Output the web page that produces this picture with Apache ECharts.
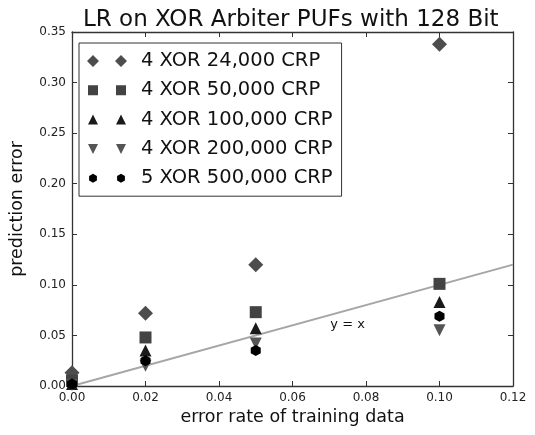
<!DOCTYPE html>
<html>
<head>
<meta charset="utf-8">
<script src="https://cdn.jsdelivr.net/npm/echarts@6/dist/echarts.min.js"></script>
<style>
  html, body { margin: 0; padding: 0; background: #fff; }
  #chart { width: 535px; height: 435px; }
</style>
</head>
<body>
<div id="chart"></div>
<script>
// error rate of training data (x positions)
const errorRates = [0, 0.02, 0.05, 0.1];
// prediction error per configuration
const xor4crp24k = [0.013, 0.072, 0.120, 0.338];
const xor4crp50k = [0.005, 0.048, 0.073, 0.101];
const xor4crp100k = [0.002, 0.035, 0.057, 0.083];
const xor4crp200k = [0.001, 0.020, 0.042, 0.055];
const xor5crp500k = [0.002, 0.025, 0.035, 0.069];
const seriesNames = ['4 XOR 24,000 CRP', '4 XOR 50,000 CRP', '4 XOR 100,000 CRP', '4 XOR 200,000 CRP', '5 XOR 500,000 CRP'];
const identityLine = [[0, 0], [0.12, 0.12]];

const FONT = 'DejaVu Sans';
const hexPath = 'path://M5,0L9.33,2.5L9.33,7.5L5,10L0.67,7.5L0.67,2.5Z';

function pts(ys) {
  return errorRates.map(function (x, i) { return [x, ys[i]]; });
}

const chart = echarts.init(document.getElementById('chart'));

const tickStyle = { show: true, inside: true, length: 5, lineStyle: { color: '#333', width: 1 } };
const axisLineStyle = { show: true, onZero: false, lineStyle: { color: '#333', width: 1.3 } };

const options = {
  backgroundColor: '#fff',
  animation: false,
  title: {
    text: 'LR on XOR Arbiter PUFs with 128 Bit',
    left: 78, top: 4,
    textStyle: { fontFamily: FONT, fontSize: 23, fontWeight: 'normal', color: '#111' }
  },
  grid: { left: 70, right: 22, top: 32, bottom: 49, containLabel: false },
  legend: {
    orient: 'vertical',
    left: 79, top: 43,
    padding: [8, 9, 8, 8],
    itemGap: 9.3,
    itemWidth: 40, itemHeight: 12,
    borderColor: '#333', borderWidth: 1,
    backgroundColor: '#fff',
    textStyle: { fontFamily: FONT, fontSize: 19.5, lineHeight: 20, color: '#111', padding: [0, 0, 0, 9] },
    data: [
      { name: seriesNames[0], icon: 'path://M0,6L6,0L12,6L6,12Z M28,6L34,0L40,6L34,12Z' },
      { name: seriesNames[1], icon: 'path://M0,0M40,12M1,1L11,1L11,11L1,11Z M29,1L39,1L39,11L29,11Z' },
      { name: seriesNames[2], icon: 'path://M0,0M40,12M6,1L11,11L1,11Z M34,1L39,11L29,11Z' },
      { name: seriesNames[3], icon: 'path://M0,0M40,12M1,1L11,1L6,11Z M29,1L39,1L34,11Z' },
      { name: seriesNames[4], icon: 'path://M0,0M40,12M6,1.5L9.9,3.75L9.9,8.25L6,10.5L2.1,8.25L2.1,3.75Z M34,1.5L37.9,3.75L37.9,8.25L34,10.5L30.1,8.25L30.1,3.75Z' }
    ]
  },
  xAxis: [
    {
      type: 'value', min: 0, max: 0.12, interval: 0.02,
      name: 'error rate of training data',
      nameLocation: 'middle', nameGap: 22,
      nameTextStyle: { fontFamily: FONT, fontSize: 17.5, color: '#111' },
      axisLine: axisLineStyle, axisTick: tickStyle,
      axisLabel: { fontFamily: FONT, fontSize: 12, color: '#222', margin: 6,
        formatter: function (v) { return v.toFixed(2); } },
      splitLine: { show: false }
    },
    {
      type: 'value', min: 0, max: 0.12, interval: 0.02, position: 'top',
      axisLine: axisLineStyle, axisTick: tickStyle,
      axisLabel: { show: false }, splitLine: { show: false }
    }
  ],
  yAxis: [
    {
      type: 'value', min: 0, max: 0.35, interval: 0.05,
      name: 'prediction error',
      nameLocation: 'middle', nameGap: 46,
      nameTextStyle: { fontFamily: FONT, fontSize: 17.5, color: '#111' },
      axisLine: axisLineStyle, axisTick: tickStyle,
      axisLabel: { fontFamily: FONT, fontSize: 12, color: '#222', margin: 6,
        formatter: function (v) { return v.toFixed(2); } },
      splitLine: { show: false }
    },
    {
      type: 'value', min: 0, max: 0.35, interval: 0.05, position: 'right',
      axisLine: axisLineStyle, axisTick: tickStyle,
      axisLabel: { show: false }, splitLine: { show: false }
    }
  ],
  series: [
    {
      name: 'y = x', type: 'line', data: identityLine,
      symbol: 'none', z: 1,
      lineStyle: { color: '#a6a6a6', width: 2 },
      markPoint: {
        symbol: 'circle', symbolSize: 0,
        label: { show: true, formatter: 'y = x', fontFamily: FONT, fontSize: 13, color: '#111' },
        data: [{ coord: [0.075, 0.061] }]
      }
    },
    { name: seriesNames[0], type: 'scatter', data: pts(xor4crp24k), symbol: 'diamond', symbolSize: 15,
      itemStyle: { color: '#4d4d4d', opacity: 1 }, z: 3 },
    { name: seriesNames[1], type: 'scatter', data: pts(xor4crp50k), symbol: 'rect', symbolSize: 12,
      itemStyle: { color: '#434343', opacity: 1 }, z: 3 },
    { name: seriesNames[2], type: 'scatter', data: pts(xor4crp100k), symbol: 'triangle', symbolSize: 12,
      itemStyle: { color: '#1a1a1a', opacity: 1 }, z: 3 },
    { name: seriesNames[3], type: 'scatter', data: pts(xor4crp200k), symbol: 'triangle', symbolRotate: 180, symbolSize: 12,
      itemStyle: { color: '#555555', opacity: 1 }, z: 3 },
    { name: seriesNames[4], type: 'scatter', data: pts(xor5crp500k), symbol: hexPath, symbolSize: [10, 11],
      itemStyle: { color: '#000000', opacity: 1 }, z: 3 }
  ]
};
chart.setOption(options);
</script>
</body>
</html>
